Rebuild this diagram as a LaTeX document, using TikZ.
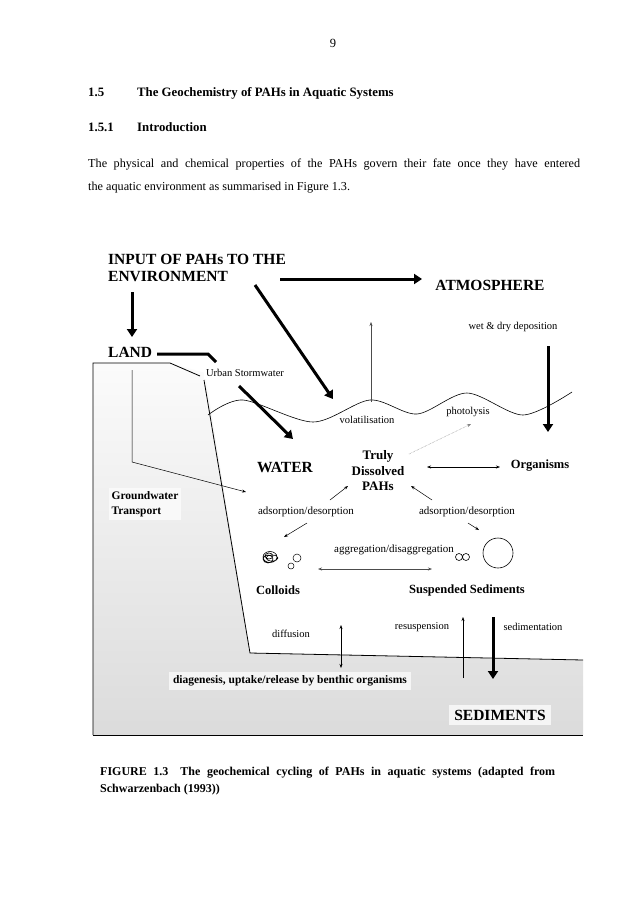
\documentclass[tikz,border=0pt]{standalone}
\usepackage{fontspec}
\setmainfont{Liberation Serif}
\usetikzlibrary{arrows.meta}
\begin{document}
\begin{tikzpicture}[x=1pt,y=-1pt,
 body/.style={font=\fontsize{12.5}{14}\selectfont,anchor=base west,inner sep=0},
 hd/.style={font=\fontsize{12.8}{14}\selectfont\bfseries,anchor=base west,inner sep=0},
 big/.style={font=\fontsize{15.5}{16}\selectfont\bfseries,inner sep=0},
 sm/.style={font=\fontsize{10.5}{12}\selectfont,inner sep=0},
 smb/.style={font=\fontsize{12.5}{14}\selectfont\bfseries,inner sep=0},
 thick arr/.style={line width=3pt,-{Triangle[length=8pt,width=10pt]}},
 thin arr/.style={line width=0.5pt,-{Stealth[length=4pt,width=3pt]}},
 both arr/.style={line width=0.5pt,{Stealth[length=4pt,width=3pt]}-{Stealth[length=4pt,width=3pt]}}]
\useasboundingbox (0,0) rectangle (638,903);
\fill[white] (0,0) rectangle (638,903);
% text
\node[body,anchor=base] (pg) at (333,47) {9};
\node[hd] (s15) at (88,96) {1.5};
\node[hd] (t15) at (137,96) {The Geochemistry of PAHs in Aquatic Systems};
\node[hd] (s151) at (88,131) {1.5.1};
\node[hd] (t151) at (137,131) {Introduction};
\node[body,text width=492pt,align=justify,anchor=north west,font=\fontsize{12.2}{23}\selectfont] (par) at (88,159)
 {The physical and chemical properties of the PAHs govern their fate once they have entered\linebreak the aquatic environment as summarised in Figure 1.3.};
% ground
\shade[top color=gray!3,bottom color=gray!28] (93,363)--(170,363)--(205,373)--(250,653)--(583,660)--(583,735)--(93,735)--cycle;
\draw[line width=0.8pt] (583,660)--(250,653)--(204,380);
\draw[line width=0.8pt] (93,735)--(93,363)--(170,363)--(200,376);
\draw[line width=1pt] (93,735)--(583,735);
% labels
\node[big,anchor=base west] (inp) at (108,264) {INPUT OF PAHs TO THE};
\node[big,anchor=base west] (inp2) at (108,281) {ENVIRONMENT};
\node[big] (atm) at (490,285) {ATMOSPHERE};
\node[big,anchor=base west] (land) at (108,357) {LAND};
\node[sm,fill=white,inner sep=2pt] (urb) at (245,373) {Urban Stormwater};
\node[sm] (wet) at (513,327) {wet \& dry deposition};
\node[sm] (vol) at (367,420) {volatilisation};
\node[sm] (pho) at (468,412) {photolysis};
\node[big] (wat) at (285,467) {WATER};
\node[smb,align=center,font=\fontsize{13}{15.5}\selectfont\bfseries] (tdp) at (378,471) {Truly\\Dissolved\\PAHs};
\node[smb] (org) at (540,466) {Organisms};
\node[smb,align=left,fill=gray!5,inner sep=3pt,font=\fontsize{11.5}{15}\selectfont\bfseries] (gw) at (145,504) {Groundwater\\Transport};
\node[sm,font=\fontsize{11}{12}\selectfont] (adl) at (306,512) {adsorption/desorption};
\node[sm,font=\fontsize{11}{12}\selectfont] (adr) at (467,512) {adsorption/desorption};
\node[sm,font=\fontsize{11}{12}\selectfont] (agg) at (394,550) {aggregation/disaggregation};
\node[smb] (col) at (278,590) {Colloids};
\node[smb] (sus) at (467,590) {Suspended Sediments};
\node[sm] (dif) at (291,634) {diffusion};
\node[sm] (res) at (422,627) {resuspension};
\node[sm] (sed) at (533,627) {sedimentation};
\node[smb,fill=gray!8,inner sep=4pt,font=\fontsize{11.5}{13}\selectfont\bfseries] (dia) at (290,681) {diagenesis, uptake/release by benthic organisms};
\node[big,fill=gray!8,inner sep=5pt] (sedi) at (500,715) {SEDIMENTS};
% wave
\draw[line width=0.6pt] plot[smooth] coordinates {(208,415)(243,400)(313,422)(370,400)(417,414)(467,393)(523,415)(572,392)};
% thick arrows
\coordinate (a1) at (280,279); \coordinate (a2) at (422,279);
\draw[thick arr] (a1)--(a2);
\coordinate (b1) at (132,292); \coordinate (b2) at (132,337);
\draw[thick arr] (b1)--(b2);
\coordinate (c1) at (255,285); \coordinate (c2) at (333,399);
\draw[thick arr] (c1)--(c2);
\coordinate (d1) at (157,354); \coordinate (d2) at (208,354); \coordinate (d3) at (216,362);
\draw[line width=3pt] (d1)--(d2)--(d3);
\coordinate (e1) at (239,386); \coordinate (e2) at (293,439);
\draw[thick arr] (e1)--(e2);
\coordinate (f1) at (548,346); \coordinate (f2) at (548,432);
\draw[thick arr] (f1)--(f2);
\coordinate (g1) at (493,617); \coordinate (g2) at (493,679);
\draw[thick arr] (g1)--(g2);
% thin arrows
\coordinate (h1) at (371,402); \coordinate (h2) at (371,322);
\draw[thin arr,gray!60!black] (h1)--(h2);
\coordinate (i1) at (409,454); \coordinate (i2) at (471,424);
\draw[thin arr,densely dotted,gray] (i1)--(i2);
\coordinate (j1) at (427,467); \coordinate (j2) at (500,467);
\draw[both arr] (j1)--(j2);
\coordinate (k1) at (132,370); \coordinate (k2) at (132,462); \coordinate (k3) at (246,492);
\draw[thin arr] (k1)--(k2)--(k3);
\coordinate (l1) at (330,500); \coordinate (l2) at (348,486);
\draw[thin arr] (l1)--(l2);
\coordinate (m1) at (432,500); \coordinate (m2) at (411,486);
\draw[thin arr] (m1)--(m2);
\coordinate (n1) at (307,523); \coordinate (n2) at (284,537);
\draw[thin arr] (n1)--(n2);
\coordinate (o1) at (468,523); \coordinate (o2) at (479,530);
\draw[thin arr] (o1)--(o2);
\coordinate (p1) at (318,569); \coordinate (p2) at (432,569);
\draw[both arr,gray!60!black,line width=0.7pt] (p1)--(p2);
\coordinate (q1) at (341,625); \coordinate (q2) at (341,668);
\draw[both arr] (q1)--(q2);
\coordinate (r1) at (463,678); \coordinate (r2) at (463,617);
\draw[thin arr] (r1)--(r2);
% particles
\draw[line width=0.6pt] (270,557) ellipse (7 and 5.5) (269,556) ellipse (4 and 3) (272,558) ellipse (6 and 3) (268,559) ellipse (5 and 4);
\draw[line width=0.5pt] (297,558) circle (4) (291,566) circle (3);
\draw[line width=0.6pt] (459,557) circle (3.5) (466,557) circle (3.5) (498,553) circle (15);
% caption
\node[smb,anchor=base west,align=left,text width=455pt,align=justify,font=\fontsize{12}{17}\selectfont\bfseries] (cap) at (100,775)
 {FIGURE 1.3\quad The geochemical cycling of PAHs in aquatic systems (adapted from Schwarzenbach (1993))};
\end{tikzpicture}
\end{document}
